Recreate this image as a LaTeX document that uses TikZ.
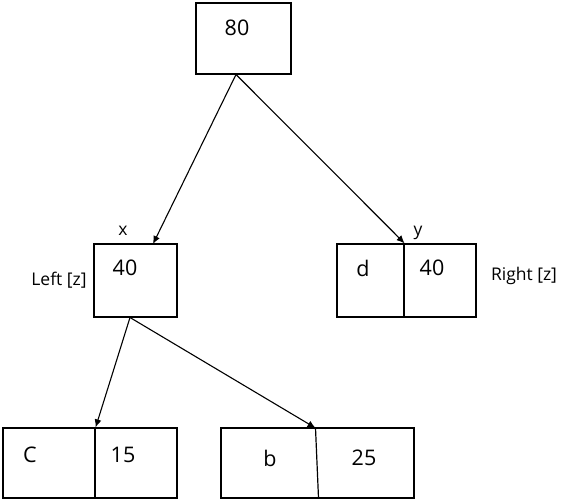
\documentclass[tikz,border=0pt]{standalone}
\usepackage{fontspec}
\setmainfont{Open Sans}
\usetikzlibrary{arrows.meta}
\begin{document}
\begin{tikzpicture}[x=1pt,y=-1pt,
  box/.style={draw, line width=1.2pt, inner sep=0pt, minimum width=#1},
  box/.default=80pt,
  num/.style={font=\fontsize{21.5}{25}\selectfont, inner sep=0pt},
  lab/.style={font=\fontsize{17.5}{21}\selectfont, inner sep=0pt},
  conn/.style={line width=1.1pt, -{Latex[length=8pt,width=7pt]}}]
\useasboundingbox (0,0) rectangle (561,500);
% boxes
\node[box=95pt, minimum height=71pt] (top) at (243.5,38.5) {};
\node[box=83pt, minimum height=73pt] (lft) at (135.5,280.5) {};
\node[box=67pt, minimum height=73pt] (rgtL) at (370.5,280.5) {};
\node[box=72pt, minimum height=73pt] (rgtR) at (440,280.5) {};
\node[box=92pt, minimum height=70pt] (cL) at (49,463) {};
\node[box=82pt, minimum height=70pt] (cR) at (136,463) {};
\node[box=193pt, minimum height=70pt] (bx) at (317.5,463) {};
\coordinate (bdivtop) at (315.5,428);
\coordinate (bdivbot) at (318.5,498);
\draw[line width=1.2pt] (bdivtop) -- (bdivbot);
% connector ends
\coordinate (topout) at (236,74.5);
\coordinate (lftin) at (153,244);
\coordinate (lftout) at (130,317.5);
% texts
\node[num] (t80) at (237,28) {80};
\node[lab] (tx) at (123,231) {x};
\node[num] (tl40) at (125,268) {40};
\node[lab] (tleft) at (59,280) {Left [z]};
\node[lab] (ty) at (418,233) {y};
\node[num] (td) at (363,268) {d};
\node[num] (tr40) at (432,268) {40};
\node[lab] (tright) at (524,276) {Right [z]};
\node[num] (tc) at (30,455) {C};
\node[num] (t15) at (123,455) {15};
\node[num] (tb) at (270,458) {b};
\node[num] (t25) at (364,458) {25};
% connectors
\draw[conn] (topout) -- (lftin);
\draw[conn] (topout) -- (rgtL.north east);
\draw[conn] (lftout) -- (cL.north east);
\draw[conn] (lftout) -- (bdivtop);
\end{tikzpicture}
\end{document}
